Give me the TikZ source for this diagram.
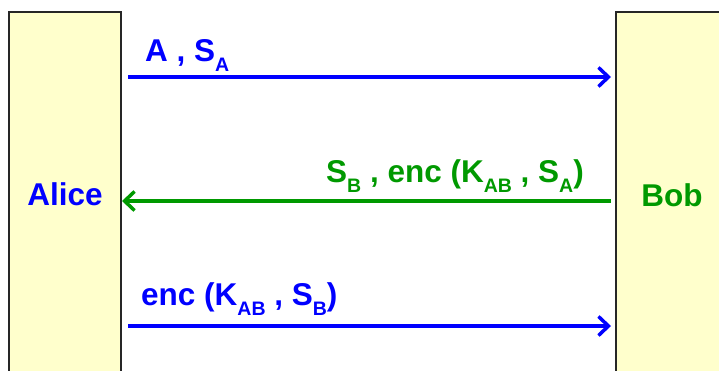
\documentclass[tikz,border=0pt]{standalone}
\usepackage{fontspec}
\setmainfont{Liberation Sans}
\usetikzlibrary{arrows.meta}
\definecolor{boxfill}{HTML}{FFFFCC}
\definecolor{mygreen}{HTML}{009900}
\definecolor{myblue}{HTML}{0000FF}
\newcommand\lsub[1]{\raisebox{-10pt}{\fontsize{19.5}{21}\selectfont\bfseries #1}}
\tikzset{
  party/.style={draw=black!85, line width=2pt, fill=boxfill, rectangle, inner sep=0pt},
  msg/.style={line width=3.5pt, -{Straight Barb[length=10pt,width=19pt,line width=3.5pt]}},
  lbl/.style={inner sep=0pt, font=\fontsize{31.5}{34}\selectfont\bfseries},
}
\begin{document}
\begin{tikzpicture}[x=1pt,y=1pt]
\useasboundingbox (0,0) rectangle (719,370);
\clip (0,0) rectangle (719,370);
\node[party, minimum width=112pt, minimum height=390pt] (alice) at (65,163) {};
\node[party, minimum width=124pt, minimum height=390pt] (bob) at (678,163) {};
\node[lbl, text=myblue, anchor=base] (alicet) at (65,165) {Alice};
\node[lbl, text=mygreen, anchor=base] (bobt) at (672,164) {Bob};
\draw[msg, myblue, shorten <=6pt, shorten >=4pt] (alice.east |- 0,293) -- (bob.west |- 0,293);
\draw[msg, mygreen, shorten <=4pt] (bob.west |- 0,169) -- (alice.east |- 0,169);
\draw[msg, myblue, shorten <=6pt, shorten >=4pt] (alice.east |- 0,44) -- (bob.west |- 0,44);
\node[lbl, text=myblue, anchor=base west] (m1) at (145,308) {A , S\lsub{A}};
\node[lbl, text=mygreen, anchor=base east] (m2) at (584,188) {S\lsub{B} , enc (K\lsub{AB} , S\lsub{A})};
\node[lbl, text=myblue, anchor=base west] (m3) at (141,65) {enc (K\lsub{AB} , S\lsub{B})};
\end{tikzpicture}
\end{document}
